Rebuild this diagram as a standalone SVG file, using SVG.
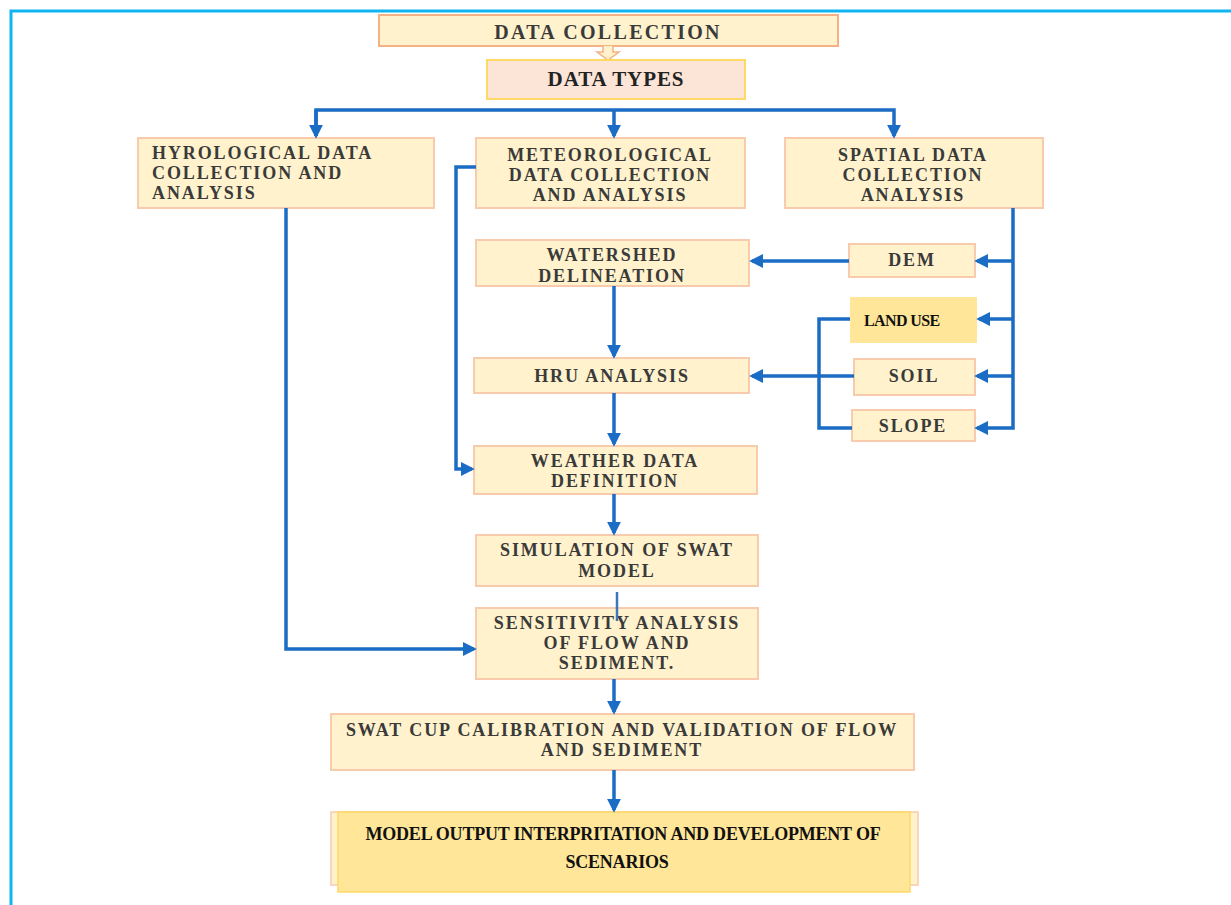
<svg xmlns="http://www.w3.org/2000/svg" width="1231" height="905" viewBox="0 0 1231 905">
<defs>
<marker id="ah" markerWidth="4" markerHeight="4" refX="3.2" refY="2" orient="auto" markerUnits="strokeWidth">
<path d="M0,0 L4,2 L0,4 z" fill="#1a6cc4"/>
</marker>
<style>
.box{fill:#fff2cc;stroke:#f8cbad;stroke-width:2}
.t{font-family:"Liberation Serif",serif;font-weight:bold;font-size:18px;fill:#3a3a3a;letter-spacing:1.9px;text-anchor:middle}
.tl{text-anchor:start}
.c{fill:none;stroke:#1a6cc4;stroke-width:3.5}
.n{font-family:"Liberation Serif",serif;font-weight:bold;font-size:18px;fill:#111;text-anchor:middle;letter-spacing:-0.2px}
</style>
</defs>
<rect width="1231" height="905" fill="#fff"/>
<path d="M11,905 V11 H1231" fill="none" stroke="#0fb4f0" stroke-width="3"/>

<g id="data-collection">
<rect x="379" y="15" width="459" height="31" fill="#fff2cc" stroke="#f4b183" stroke-width="2"/>
<text class="t" x="608" y="39" style="font-size:20px;letter-spacing:2.3px">DATA COLLECTION</text>
</g>
<g id="down-arrow">
<path d="M603,46 V52 H597 L608,60 L619,52 H613 V46" fill="#fff2cc" stroke="#f4b183" stroke-width="1.5"/>
</g>
<g id="data-types">
<rect x="487" y="60" width="258" height="39" fill="#fce4d6" stroke="#ffd966" stroke-width="2"/>
<text class="t" x="616" y="86" style="font-size:21px;fill:#222;letter-spacing:0.9px">DATA TYPES</text>
</g>
<g id="hydro">
<rect class="box" x="138" y="138" width="296" height="70"/>
<text class="t tl" x="152" y="159">HYROLOGICAL DATA</text>
<text class="t tl" x="152" y="179">COLLECTION AND</text>
<text class="t tl" x="152" y="199">ANALYSIS</text>
</g>
<g id="meteo">
<rect class="box" x="476" y="138" width="269" height="70"/>
<text class="t" x="610" y="161">METEOROLOGICAL</text>
<text class="t" x="610" y="181">DATA COLLECTION</text>
<text class="t" x="610" y="201">AND ANALYSIS</text>
</g>
<g id="spatial">
<rect class="box" x="785" y="138" width="258" height="70"/>
<text class="t" x="913" y="161">SPATIAL DATA</text>
<text class="t" x="913" y="181">COLLECTION</text>
<text class="t" x="913" y="201">ANALYSIS</text>
</g>
<g id="watershed">
<rect class="box" x="476" y="240" width="273" height="46"/>
<text class="t" x="612" y="261">WATERSHED</text>
<text class="t" x="612" y="282">DELINEATION</text>
</g>
<g id="dem">
<rect class="box" x="849" y="244" width="126" height="33"/>
<text class="t" x="912" y="266">DEM</text>
</g>
<g id="landuse">
<rect x="850" y="297" width="127" height="46" fill="#ffe699"/>
<text class="n" x="864" y="326" style="text-anchor:start;font-size:16px;letter-spacing:-0.6px">LAND USE</text>
</g>
<g id="soil">
<rect class="box" x="854" y="359" width="121" height="36"/>
<text class="t" x="914" y="382">SOIL</text>
</g>
<g id="slope">
<rect class="box" x="852" y="410" width="123" height="31"/>
<text class="t" x="913" y="432">SLOPE</text>
</g>
<g id="hru">
<rect class="box" x="474" y="358" width="275" height="35"/>
<text class="t" x="612" y="382">HRU ANALYSIS</text>
</g>
<g id="weather">
<rect class="box" x="474" y="446" width="283" height="48"/>
<text class="t" x="615" y="467">WEATHER DATA</text>
<text class="t" x="615" y="487">DEFINITION</text>
</g>
<g id="simulation">
<rect class="box" x="476" y="535" width="282" height="51"/>
<text class="t" x="617" y="556">SIMULATION OF SWAT</text>
<text class="t" x="617" y="577">MODEL</text>
</g>
<g id="sensitivity">
<rect class="box" x="476" y="608" width="282" height="71"/>
<text class="t" x="617" y="629">SENSITIVITY ANALYSIS</text>
<text class="t" x="617" y="649">OF FLOW AND</text>
<text class="t" x="617" y="669">SEDIMENT.</text>
</g>
<g id="swatcup">
<rect class="box" x="331" y="714" width="583" height="56"/>
<text class="t" x="622" y="736">SWAT CUP CALIBRATION AND VALIDATION OF FLOW</text>
<text class="t" x="622" y="756">AND SEDIMENT</text>
</g>
<g id="model-output">
<rect x="331" y="812" width="587" height="73" fill="#fff2cc" stroke="#f8cbad" stroke-width="1.5"/>
<rect x="338" y="812" width="572" height="80" fill="#ffe699" stroke="#ffd966" stroke-width="1.5"/>
<text class="n" x="623" y="840">MODEL OUTPUT INTERPRITATION AND DEVELOPMENT OF</text>
<text class="n" x="617" y="868">SCENARIOS</text>
</g>

<g id="connectors">
<path class="c" d="M316,136 V110 H894 V136" marker-end="url(#ah)"/>
<path class="c" d="M316,110 V136" marker-end="url(#ah)"/>
<path class="c" d="M614,110 V136" marker-end="url(#ah)"/>
<path class="c" d="M286,208 V649 H474" marker-end="url(#ah)"/>
<path class="c" d="M476,167 H456 V469 H472" marker-end="url(#ah)"/>
<path class="c" d="M1013,208 V428 H977" marker-end="url(#ah)"/>
<path class="c" d="M1013,261 H977" marker-end="url(#ah)"/>
<path class="c" d="M1013,319 H979" marker-end="url(#ah)"/>
<path class="c" d="M1013,376 H977" marker-end="url(#ah)"/>
<path class="c" d="M849,261 H752" marker-end="url(#ah)"/>
<path class="c" d="M850,319 H819 V428 H852"/>
<path class="c" d="M854,376 H752" marker-end="url(#ah)"/>
<path class="c" d="M614,286 V356" marker-end="url(#ah)"/>
<path class="c" d="M614,393 V444" marker-end="url(#ah)"/>
<path class="c" d="M614,494 V533" marker-end="url(#ah)"/>
<path d="M617,592 V621" fill="none" stroke="#3a78b8" stroke-width="2.5"/>
<path class="c" d="M614,679 V712" marker-end="url(#ah)"/>
<path class="c" d="M614,770 V810" marker-end="url(#ah)"/>
</g>
</svg>
